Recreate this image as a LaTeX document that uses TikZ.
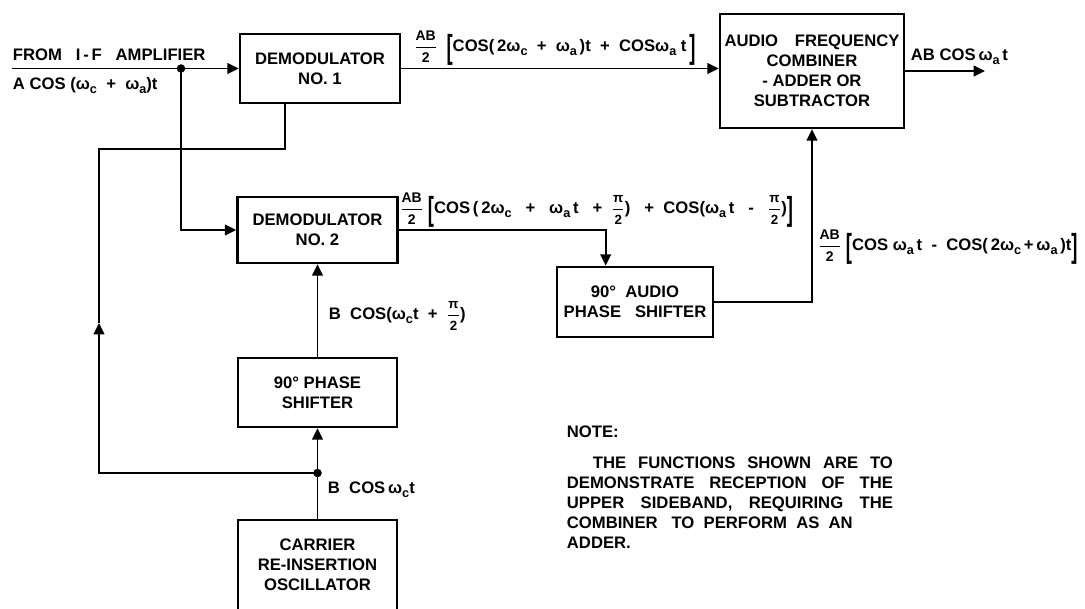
\documentclass[tikz,border=0pt]{standalone}
\usepackage{amsmath}
\usepackage{graphicx}
\usepackage{fontspec}
\setmainfont{Liberation Sans}
\usetikzlibrary{arrows.meta}

\tikzset{every picture/.style={line width=1.4pt}}
\tikzset{
  blockbox/.style={draw, line width=2pt, inner sep=0pt, align=center, font=\bfseries\fontsize{12.5}{15}\selectfont},
  lbl/.style={inner sep=0pt, font=\bfseries\fontsize{12.5}{15}\selectfont},
  arr/.style={-{Triangle[length=8.5pt,width=8pt]}}
}
\newcommand{\omgc}{ω\raisebox{-0.5ex}{\fontsize{9.5}{9.5}\selectfont c}}
\newcommand{\omga}{ω\raisebox{-0.5ex}{\fontsize{9.5}{9.5}\selectfont a}}
\newcommand{\halfpi}{$\dfrac{\text{\fontsize{10}{10}\selectfont π}}{\text{\fontsize{10}{10}\selectfont 2}}$}
\newcommand{\halfab}{$\dfrac{\text{\fontsize{10.5}{10.5}\selectfont AB}}{\text{\fontsize{10.5}{10.5}\selectfont 2}}$}
\newcommand{\lbrk}{\raisebox{-0.42em}{\scalebox{1.1}[2]{[}}}
\newcommand{\rbrk}{\raisebox{-0.42em}{\scalebox{1.1}[2]{]}}}

\begin{document}
\begin{tikzpicture}[x=0.75pt,y=0.75pt,yscale=-1,xscale=1]
\useasboundingbox (0,0) rectangle (1085,608);
%Shape: Rectangle [demodulators]
\draw (320,68.5) node [blockbox, minimum width=120pt, minimum height=51.75pt] (dem1) {DEMODULATOR\\NO. 1};
\draw (317.5,230) node [blockbox, minimum width=120pt, minimum height=49.5pt] (dem2) {DEMODULATOR\\NO. 2};
%Shape: Rectangle [combiner]
\draw (812,71) node [blockbox, minimum width=138pt, minimum height=85.5pt] (comb) {AUDIO\quad FREQUENCY\\COMBINER\\- ADDER\ OR\\SUBTRACTOR};
%Shape: Rectangle [phase shifters]
\draw (635,302) node [blockbox, minimum width=117pt, minimum height=52.5pt] (audshift) {90°\ \ AUDIO\\PHASE\ \ \ SHIFTER};
\draw (317.5,392.5) node [blockbox, minimum width=119.25pt, minimum height=51.75pt] (shift) {90°\ PHASE\\SHIFTER};
%Shape: Rectangle [oscillator]
\draw (317.5,565) node [blockbox, minimum width=119.25pt, minimum height=67.5pt] (osc) {CARRIER\\RE-INSERTION\\OSCILLATOR};

% junctions and free ends
\coordinate (inp) at (12,68.5);
\coordinate (jin) at (181,68.5);
\coordinate (jdot) at (317.5,473);
\coordinate (lturn) at (99,149);
\coordinate (larr) at (99,323);
\coordinate (outp) at (985,71);

%Straight Lines
\draw [arr] (inp) -- (dem1.west);
\fill (jin) circle (3.2pt);
\draw [arr] (jin) |- (dem2.west);
\draw [arr] (dem1.east) -- (dem1.east -| comb.west);
\draw [arr] (comb.east) -- (outp);
\draw [arr] (dem2.east) -| ([xshift=-22pt]audshift.north);
\draw [arr] (audshift.east) -| (comb.south);
\draw [arr] (shift.north) -- (dem2.south);
\draw (osc.north) -- (jdot);
\draw [arr] (jdot) -- (shift.south);
\fill (jdot) circle (3.2pt);
\draw [arr] (jdot) -| (larr);
\draw (larr) -- (lturn) -| ([xshift=-26.25pt]dem1.south);

% Text Node
\draw (12,62) node [lbl, anchor=south west] (lfrom) {FROM\ \ \ I\,-\,F\ \ \ AMPLIFIER};
% Text Node
\draw (12,76) node [lbl, anchor=north west] (lina) {A COS (\omgc\ \ +\ \ \omga)t};
% Text Node
\draw (413,48) node [lbl, anchor=west] (fdem1) {\halfab\ \ \lbrk COS(\,2\omgc\ \ +\ \ \omga\,)t\ \ +\ \ COS\omga\ t\,\rbrk};
% Text Node
\draw (910,66) node [lbl, anchor=south west] (fout) {AB COS\,\omga\,t};
% Text Node
\draw (399,210) node [lbl, anchor=west] (fdem2) {\halfab\ \lbrk COS\,(\,2\omgc\ \ \ +\ \ \ \omga\,t\ \ \ +\ \ \halfpi)\ \ \ +\ \ COS(\omga\,t\ \ \ -\ \ \ \halfpi)\rbrk};
% Text Node
\draw (817,247) node [lbl, anchor=west] (faud) {\halfab\ \lbrk COS\ \omga\,t\ \ -\ \ COS(\,2\omgc\,+\,\omga\,)t\rbrk};
% Text Node
\draw (328,316) node [lbl, anchor=west] (fshift) {B\ \ COS(\omgc t\ \ +\ \ \halfpi)};
% Text Node
\draw (327,490) node [lbl, anchor=west] (fosc) {B\ \ COS\,\omgc t};
% Text Node
\draw (566,432) node [lbl, anchor=west] (note) {NOTE:};
% Text Node
\draw (566,456) node [lbl, anchor=north west, text width=244.5pt, align=justify] (notetext) {\hspace*{19.5pt}THE FUNCTIONS SHOWN ARE TO\linebreak DEMONSTRATE RECEPTION OF THE\linebreak UPPER SIDEBAND, REQUIRING THE\linebreak COMBINER\ \ \ TO\ \ PERFORM\ \ AS\ \ AN\\ADDER.};

\end{tikzpicture}
\end{document}
